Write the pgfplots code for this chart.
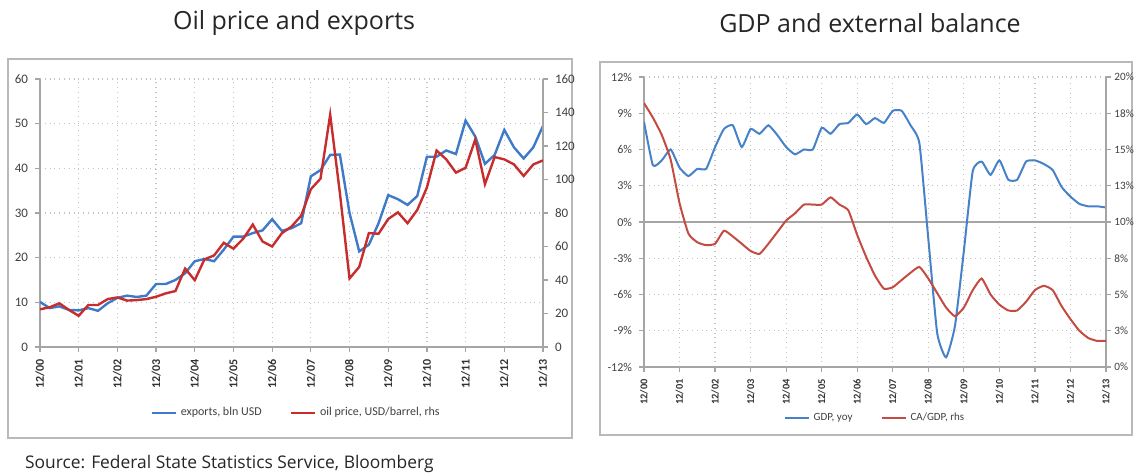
\documentclass[border=0pt]{standalone}
\usepackage{pgfplots}
\usepackage{pgfplotstable}
\pgfplotsset{compat=1.18}
\usepackage{fontspec}
\setmainfont{Open Sans}
\newfontfamily\carl{Carlito}
\definecolor{eblue}{RGB}{62,122,200}
\definecolor{ered}{RGB}{200,45,45}
\definecolor{gblue}{RGB}{70,130,200}
\definecolor{gred}{RGB}{195,75,65}
\definecolor{axgray}{RGB}{165,165,165}
\definecolor{grd}{RGB}{195,195,195}
\definecolor{framec}{RGB}{185,185,185}
\definecolor{txt}{RGB}{64,64,64}

\pgfplotstableread{
t exp oil
0 10.1 22.5
1 8.7 23.7
2 9.1 26.1
3 8.3 22.1
4 8.2 18.6
5 8.7 25.1
6 8.1 25.1
7 9.8 28.6
8 11.0 29.6
9 11.5 27.7
10 11.2 28.0
11 11.5 28.6
12 14.1 30.0
13 14.1 32.0
14 15.0 33.4
15 16.5 46.8
16 19.2 39.9
17 19.7 52.3
18 19.2 54.7
19 21.8 62.2
20 24.7 58.7
21 24.7 64.6
22 25.5 73.1
23 26.1 63.0
24 28.6 60.0
25 26.0 67.9
26 26.6 71.9
27 27.7 78.4
28 38.2 94.2
29 39.6 100.5
30 43.0 138.7
31 43.1 92.0
32 30.0 40.9
33 21.4 47.8
34 22.9 68.0
35 27.7 67.6
36 34.0 76.4
37 33.1 80.4
38 31.8 73.9
39 33.8 81.8
40 42.6 95.2
41 42.6 117.3
42 44.0 112.0
43 43.2 104.1
44 50.7 107.0
45 47.1 123.9
46 41.0 97.2
47 43.0 113.4
48 48.6 112.0
49 44.7 109.0
50 42.2 102.1
51 44.7 109.0
52 49.5 111.4
}\oiltable

\pgfplotstableread{
t gdp ca
0 8.3 18.2
1 4.7 17.2
2 5.1 16.0
3 6.0 14.3
4 4.5 11.3
5 3.8 9.2
6 4.4 8.6
7 4.4 8.4
8 6.2 8.5
9 7.7 9.4
10 8.0 9.0
11 6.2 8.5
12 7.7 8.0
13 7.3 7.8
14 8.0 8.5
15 7.2 9.3
16 6.2 10.1
17 5.6 10.6
18 6.0 11.2
19 6.0 11.2
20 7.8 11.2
21 7.3 11.7
22 8.1 11.2
23 8.2 10.8
24 8.9 9.1
25 8.1 7.6
26 8.6 6.3
27 8.2 5.4
28 9.2 5.5
29 9.2 6.0
30 8.0 6.5
31 6.5 6.9
32 -1.4 6.1
33 -9.2 5.1
34 -11.2 4.1
35 -8.6 3.5
36 -2.4 4.1
37 4.2 5.3
38 5.0 6.1
39 3.9 5.0
40 5.1 4.3
41 3.5 3.9
42 3.5 3.9
43 5.0 4.5
44 5.1 5.3
45 4.8 5.6
46 4.3 5.3
47 2.9 4.2
48 2.1 3.3
49 1.5 2.5
50 1.3 2.0
51 1.3 1.8
52 1.2 1.8
}\gdptable

\pgfplotsset{
  base/.style={
    scale only axis,
    xmin=0, xmax=52,
    xtick={0,4,...,52},
    xticklabels={12/00,12/01,12/02,12/03,12/04,12/05,12/06,12/07,12/08,12/09,12/10,12/11,12/12,12/13},
    axis x line*=bottom,
    tick style={axgray, line width=0.6pt},
    axis line style={axgray, line width=0.8pt},
    tick align=outside,
    major tick length=2.5pt,
    grid style={grd, dotted, line width=0.6pt},
    ticklabel style={text=txt},
    legend image code/.code={\draw[#1] (0pt,0pt) -- (12pt,0pt);},
  },
}

\begin{document}
\begin{tikzpicture}
\path[use as bounding box] (0,0) rectangle (567pt,237.5pt);
\draw[framec, line width=1pt] (4pt,18.5pt) rectangle (286pt,208pt);
\draw[framec, line width=1pt] (300pt,20pt) rectangle (566pt,206.5pt);
\node[font=\fontsize{12.5}{14}\selectfont, text=black!85] at (147pt,226pt) {Oil price and exports};
\node[font=\fontsize{12.5}{14}\selectfont, text=black!85] at (435pt,226pt) {GDP and external balance};
\node[anchor=west, font=\fontsize{8.7}{10}\selectfont, text=black!85] at (9pt,5.5pt) {Source: Federal State Statistics Service, Bloomberg};

% ---------- left chart
\begin{axis}[base, at={(20pt,64pt)}, anchor=south west, width=251.5pt, height=134pt,
  ymin=0, ymax=60, ytick={0,10,...,60}, yticklabels={0,10,20,30,40,50,60},
  axis y line*=left, grid=major,
  yticklabel style={font=\carl\fontsize{6.5}{7}\selectfont},
  xticklabel style={rotate=90, anchor=east, text=black!80, font=\carl\bfseries\fontsize{6}{7}\selectfont},
]
\addplot[eblue, line width=1.2pt] table[x=t, y=exp] {\oiltable};
\end{axis}
\begin{axis}[base, at={(20pt,64pt)}, anchor=south west, width=251.5pt, height=134pt,
  ymin=0, ymax=160, ytick={0,20,...,160}, yticklabels={0,20,40,60,80,100,120,140,160},
  axis y line*=right, axis x line=none,
  yticklabel style={font=\carl\fontsize{6.5}{7}\selectfont},
  legend style={at={(0.511,-0.246)}, anchor=center, draw=none, fill=none,
    font=\carl\fontsize{6}{7}\selectfont, text=txt, legend columns=2,
    /tikz/every even column/.append style={column sep=12pt}},
]
\addlegendimage{eblue, line width=1.2pt}
\addlegendentry{exports, bln USD}
\addplot[ered, line width=1.2pt] table[x=t, y=oil] {\oiltable};
\addlegendentry{oil price, USD/barrel, rhs}
\end{axis}

% ---------- right chart
\begin{axis}[base, at={(322pt,54pt)}, anchor=south west, width=231pt, height=145pt,
  ymin=-12, ymax=12, ytick={-12,-9,-6,-3,3,6,9,12},
  yticklabels={-12\%,-9\%,-6\%,-3\%,3\%,6\%,9\%,12\%},
  extra y ticks={0}, extra y tick labels={0\%},
  extra y tick style={grid style={axgray, solid, line width=0.8pt}},
  axis y line*=left, grid=major,
  yticklabel style={font=\carl\fontsize{6}{7}\selectfont},
  xticklabel style={rotate=90, anchor=east, text=black!80, font=\carl\bfseries\fontsize{5.2}{6}\selectfont},
]
\addplot[gblue, line width=1pt, smooth, tension=0.3] table[x=t, y=gdp] {\gdptable};
\end{axis}
\begin{axis}[base, at={(322pt,54pt)}, anchor=south west, width=231pt, height=145pt,
  ymin=0, ymax=20, ytick={0,2.5,...,20},
  yticklabels={0\%,3\%,5\%,8\%,10\%,13\%,15\%,18\%,20\%},
  axis y line*=right, axis x line=none,
  yticklabel style={font=\carl\fontsize{5.6}{7}\selectfont, xshift=-1.8pt},
  legend style={at={(0.502,-0.176)}, anchor=center, draw=none, fill=none,
    font=\carl\fontsize{5.5}{7}\selectfont, text=txt, legend columns=2,
    /tikz/every even column/.append style={column sep=12pt}},
]
\addlegendimage{gblue, line width=1pt}
\addlegendentry{GDP, yoy}
\addplot[gred, line width=1pt, smooth, tension=0.3] table[x=t, y=ca] {\gdptable};
\addlegendentry{CA/GDP, rhs}
\end{axis}
\end{tikzpicture}
\end{document}
